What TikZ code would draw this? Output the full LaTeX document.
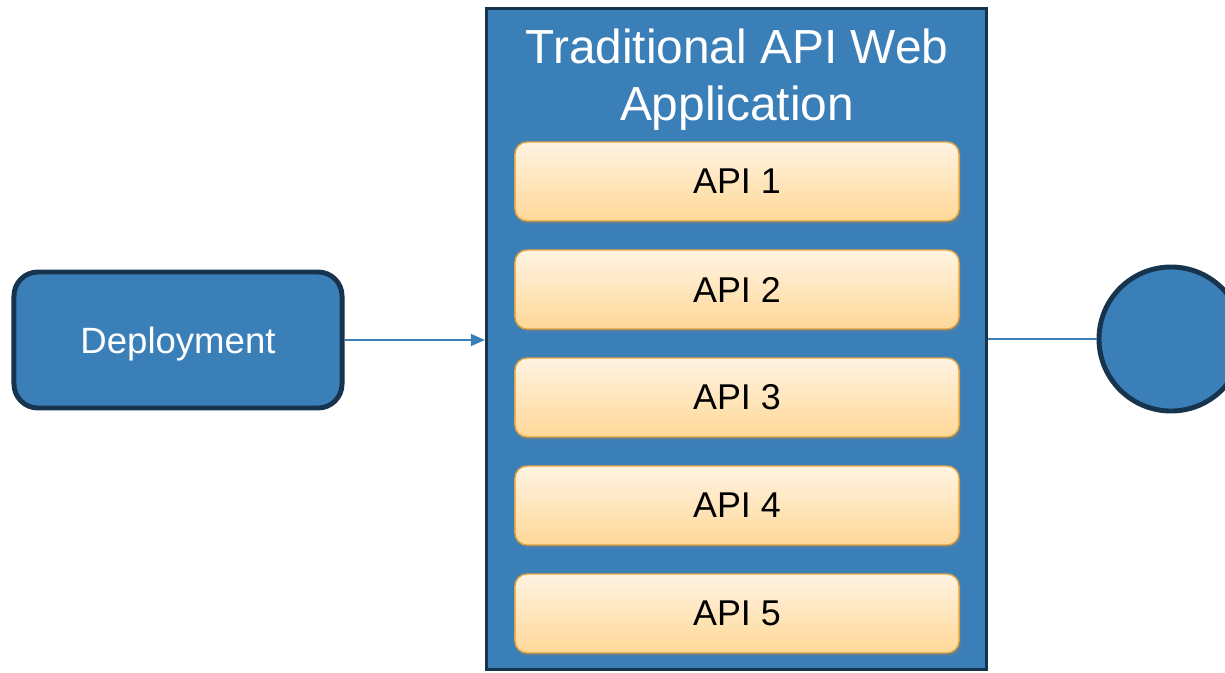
\documentclass[tikz,border=0pt]{standalone}
\usepackage{fontspec}
\setmainfont{Liberation Sans}
\usetikzlibrary{arrows.meta,positioning,shadows}

\definecolor{appblue}{HTML}{3B7FB8}
\definecolor{navy}{HTML}{17344F}
\definecolor{apitop}{HTML}{FFF3E2}
\definecolor{apibot}{HTML}{FFD897}
\definecolor{apiline}{HTML}{E2A23A}

\tikzset{
  deploy/.style={draw=navy, line width=3.5pt, fill=appblue, rounded corners=0.6cm,
    minimum width=8.2cm, minimum height=3.4cm, text=white, text depth=0pt,
    font=\fontsize{26}{30}\selectfont},
  app/.style={draw=navy, line width=2.2pt, fill=appblue,
    minimum width=12.5cm, minimum height=16.5cm},
  apptitle/.style={text=white, align=center, font=\fontsize{34}{40.5}\selectfont},
  api/.style={draw=apiline, line width=1pt, rounded corners=0.3cm,
    top color=apitop, bottom color=apibot,
    minimum width=11.1cm, minimum height=1.975cm,
    font=\fontsize{25.5}{30}\selectfont,
    drop shadow={opacity=0.35, shadow xshift=0.05cm, shadow yshift=-0.08cm}},
  target/.style={circle, draw=navy, line width=3.5pt, fill=appblue, minimum size=3.6cm},
  link/.style={draw=appblue, line width=1pt}
}

\begin{document}
\begin{tikzpicture}[x=0.025cm, y=-0.025cm]
\clip (0,0) rectangle (1225,672);
\useasboundingbox (0,0) rectangle (1225,672);

\node[deploy] (deploy) at (178,340) {Deployment};
\node[app] (app) at (736.5,339) {};
\node[apptitle] (title) at (737,80) {Traditional API Web\\Application};

% stacked api boxes
\foreach \i in {1,...,5}
  \node[api] (api\i) at (737,{181.5+108*(\i-1)}) {API \i};

\node[target] (target) at (1171,339) {};

\draw[link, -{Triangle[length=0.35cm, width=0.3cm]}] (deploy.east) -- (app.west |- deploy.east);
\draw[link] (app.east |- target.west) -- (target.west);
\end{tikzpicture}
\end{document}
